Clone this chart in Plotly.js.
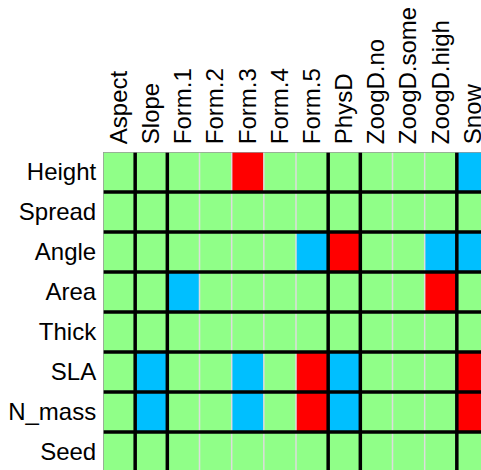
<!DOCTYPE html>
<html>
<head>
<meta charset="utf-8">
<script src="https://cdn.plot.ly/plotly-3.0.1.min.js"></script>
<style>
html,body{margin:0;padding:0;overflow:hidden;background:#fff;}
#chart{width:620px;height:620px;}
</style>
</head>
<body>
<div id="chart"></div>
<script>
// Column (predictor) labels
const columns = ["Aspect","Slope","Form.1","Form.2","Form.3","Form.4","Form.5","PhysD","ZoogD.no","ZoogD.some","ZoogD.high","Snow"];
// Row (trait) labels
const rows = ["Height","Spread","Angle","Area","Thick","SLA","N_mass","Seed"];
// Cell codes: 0 = green (none), 1 = red, 2 = blue
const zHeight = [0,0,0,0,1,0,0,0,0,0,0,2];
const zSpread = [0,0,0,0,0,0,0,0,0,0,0,0];
const zAngle  = [0,0,0,0,0,0,2,1,0,0,2,2];
const zArea   = [0,0,2,0,0,0,0,0,0,0,1,0];
const zThick  = [0,0,0,0,0,0,0,0,0,0,0,0];
const zSLA    = [0,2,0,0,2,0,1,2,0,0,0,1];
const zNmass  = [0,2,0,0,2,0,1,2,0,0,0,1];
const zSeed   = [0,0,0,0,0,0,0,0,0,0,0,0];
// Group boundaries (black lines between these column groups)
const groupBreaks = [0.5, 1.5, 6.5, 7.5, 10.5];
const withinBreaks = [2.5, 3.5, 4.5, 5.5, 8.5, 9.5];

const z = [zHeight,zSpread,zAngle,zArea,zThick,zSLA,zNmass,zSeed];
const green = '#90ff88', red = '#ff0000', blue = '#00bfff';

const nC = columns.length, nR = rows.length;
const colW = 32.2, rowH = 40;
const W = 620, H = 620, L = 103, T = 152;

const shapes = [];
withinBreaks.forEach(v => shapes.push({type:'line', xref:'x', yref:'y', x0:v, x1:v, y0:-0.5, y1:nR-0.5, line:{color:'#dddddd', width:1.5}}));
for (let i = 0; i < nR - 1; i++) {
  shapes.push({type:'line', xref:'x', yref:'y', x0:-0.5, x1:nC-0.5, y0:i+0.5, y1:i+0.5, line:{color:'#000', width:3.5}});
}
groupBreaks.forEach(v => shapes.push({type:'line', xref:'x', yref:'y', x0:v, x1:v, y0:-0.5, y1:nR-0.5, line:{color:'#000', width:3.5}}));
shapes.push({type:'rect', xref:'x', yref:'y', x0:-0.5, x1:nC-0.5, y0:-0.5, y1:nR-0.5, line:{color:'#999', width:1.5}});

const data = [{
  type:'heatmap',
  z: z,
  x: columns.map((c,i)=>i),
  y: rows.map((r,i)=>i),
  zmin:0, zmax:2,
  colorscale:[[0,green],[0.5,red],[1,blue]],
  showscale:false,
  hoverinfo:'skip'
}];

const layout = {
  width:W, height:H,
  margin:{l:L, t:T, r:W-L-nC*colW, b:H-T-nR*rowH, pad:0},
  paper_bgcolor:'#fff', plot_bgcolor:'#fff',
  font:{family:'"Liberation Sans", Arial, sans-serif', size:24, color:'#000'},
  xaxis:{side:'top', range:[-0.5,nC-0.5], tickvals:columns.map((c,i)=>i), ticktext:columns,
         tickangle:-90, showgrid:false, zeroline:false, showline:false,
         ticks:'outside', ticklen:2, tickcolor:'rgba(0,0,0,0)', fixedrange:true},
  yaxis:{range:[nR-0.5,-0.5], tickvals:rows.map((r,i)=>i), ticktext:rows,
         showgrid:false, zeroline:false, showline:false,
         ticks:'outside', ticklen:1, tickcolor:'rgba(0,0,0,0)', fixedrange:true},
  shapes: shapes,
  showlegend:false
};

Plotly.newPlot('chart', data, layout, {displayModeBar:false, staticPlot:true});
</script>
</body>
</html>
